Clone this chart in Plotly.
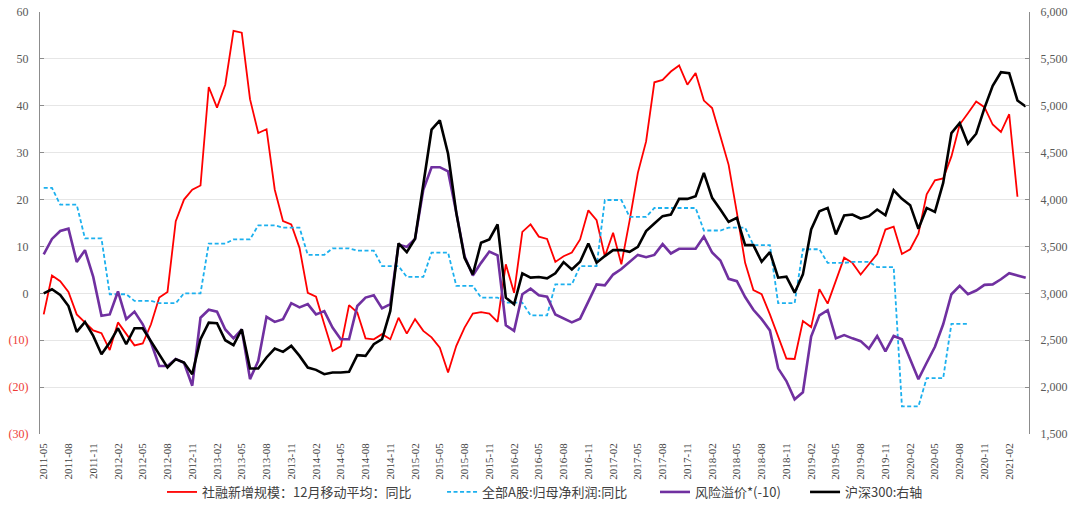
import plotly.graph_objects as go
import pandas as pd

months = [p.strftime("%Y-%m") for p in pd.period_range("2011-05", "2021-04", freq="M")]

social_financing = [
    -4.5, 3.8, 2.6, 0.3, -4.5, -6.1, -7.9, -8.5, -12.1, -6.2,
    -8.7, -11.1, -10.7, -6.6, -0.9, 0.3, 15.4, 20.0, 22.1, 23.0,
    44.0, 39.6, 44.5, 56.0, 55.6, 41.4, 34.2, 35.0, 22.1, 15.4,
    14.7, 9.7, 0.1, -0.7, -6.6, -12.3, -11.3, -2.5, -4.1, -9.6,
    -9.8, -8.7, -9.8, -5.2, -8.6, -5.5, -8.0, -9.4, -11.6, -16.9,
    -11.2, -7.3, -4.3, -4.0, -4.3, -6.1, 6.2, 0.1, 13.1, 14.7,
    12.1, 11.6, 6.7, 7.9, 8.7, 11.5, 17.7, 15.6, 7.9, 12.9,
    6.2, 15.5, 25.7, 32.4, 45.0, 45.5, 47.3, 48.6, 44.5, 47.0,
    41.1, 39.5, 33.5, 27.4, 17.2, 6.5, 0.7, -0.2, -4.5, -9.4,
    -13.9, -14.0, -5.9, -7.2, 0.9, -2.2, 2.6, 7.6, 6.5, 4.0,
    6.2, 8.4, 13.6, 14.2, 8.4, 9.4, 12.7, 21.1, 24.1, 24.5,
    29.2, 36.0, 38.4, 40.9, 39.7, 36.0, 34.4, 38.2, 20.6, None,
]

a_share_profit = [
    22.5, 22.5, 18.9, 18.9, 18.9, 11.7, 11.7, 11.7, -0.2, -0.2,
    -0.2, -1.6, -1.6, -1.6, -2.1, -2.1, -2.1, 0.0, 0.0, 0.0,
    10.6, 10.6, 10.6, 11.5, 11.5, 11.5, 14.5, 14.5, 14.5, 14.0,
    14.0, 14.0, 8.2, 8.2, 8.2, 9.6, 9.6, 9.6, 9.1, 9.1,
    9.1, 5.8, 5.8, 5.8, 3.5, 3.5, 3.5, 8.7, 8.7, 8.7,
    1.6, 1.6, 1.6, -0.9, -0.9, -0.9, -2.0, -2.0, -2.0, -4.7,
    -4.7, -4.7, 1.9, 1.9, 1.9, 5.8, 5.8, 5.8, 19.9, 19.9,
    19.9, 16.3, 16.3, 16.3, 18.2, 18.2, 18.2, 18.2, 18.2, 18.2,
    13.4, 13.4, 13.4, 14.0, 14.0, 14.0, 10.3, 10.3, 10.3, -2.1,
    -2.1, -2.1, 9.4, 9.4, 9.4, 6.5, 6.5, 6.5, 6.7, 6.7,
    6.7, 5.6, 5.6, 5.6, -24.1, -24.1, -24.1, -18.1, -18.1, -18.1,
    -6.5, -6.5, -6.5, None, None, None, None, None, None, None,
]

risk_premium = [
    8.3, 11.6, 13.3, 13.8, 6.7, 9.2, 3.5, -4.8, -4.5, 0.4,
    -5.5, -3.9, -6.6, -10.5, -15.5, -15.5, -14.0, -14.8, -19.7, -5.2,
    -3.5, -3.9, -7.7, -9.6, -7.7, -18.3, -14.4, -5.0, -6.1, -5.5,
    -2.1, -3.0, -2.3, -4.5, -3.8, -7.3, -9.8, -9.8, -2.7, -0.9,
    -0.4, -3.2, -2.3, 10.4, 9.9, 11.6, 22.1, 26.9, 26.9, 26.0,
    17.2, 7.9, 3.8, 6.5, 8.9, 8.1, -6.8, -8.0, -0.2, 1.0,
    -0.4, -0.7, -4.5, -5.3, -6.2, -5.4, -1.8, 1.9, 1.7, 4.0,
    5.2, 6.7, 8.2, 7.7, 8.2, 10.5, 8.5, 9.5, 9.5, 9.5,
    12.1, 8.7, 7.0, 3.1, 2.6, -0.8, -3.5, -5.5, -7.9, -16.0,
    -18.7, -22.6, -21.1, -9.2, -4.7, -3.6, -9.6, -8.9, -9.6, -10.2,
    -11.8, -9.1, -12.4, -9.1, -9.8, -14.0, -18.3, -14.8, -11.4, -6.6,
    -0.2, 1.6, -0.2, 0.6, 1.8, 1.9, 3.0, 4.3, 3.8, 3.3,
]

hs300 = [
    3000, 3043, 2982, 2865, 2589, 2695, 2546, 2351, 2475, 2628,
    2457, 2628, 2628, 2493, 2351, 2209, 2298, 2262, 2138, 2511,
    2688, 2681, 2500, 2447, 2617, 2199, 2199, 2316, 2411, 2376,
    2440, 2333, 2209, 2184, 2138, 2156, 2156, 2163, 2340, 2333,
    2457, 2511, 2812, 3532, 3440, 3582, 4160, 4745, 4844, 4489,
    3858, 3379, 3202, 3539, 3574, 3734, 2954, 2883, 3213, 3167,
    3174, 3160, 3213, 3333, 3255, 3337, 3532, 3326, 3397, 3461,
    3461, 3443, 3496, 3663, 3745, 3823, 3840, 4007, 4007, 4035,
    4284, 4018, 3894, 3762, 3805, 3514, 3514, 3337, 3440, 3167,
    3177, 3007, 3202, 3681, 3876, 3911, 3628, 3830, 3840, 3798,
    3823, 3894, 3833, 4099, 4007, 3940, 3688, 3911, 3869, 4177,
    4709, 4816, 4596, 4702, 4975, 5213, 5358, 5347, 5057, 4993,
]

series_names = [
    "社融新增规模：12月移动平均：同比",
    "全部A股:归母净利润:同比",
    "风险溢价*(-10)",
    "沪深300:右轴",
]

left_ticks = [-30, -20, -10, 0, 10, 20, 30, 40, 50, 60]
right_ticks = [1500, 2000, 2500, 3000, 3500, 4000, 4500, 5000, 5500, 6000]

NEG = "#EE3B36"
GRAY = "#595959"
SERIF = "Liberation Serif, DejaVu Serif, serif"
left_text = [
    (f"<span style='color:{NEG}'>({abs(v)})</span>" if v < 0 else str(v))
    for v in left_ticks
]
right_text = [f"{v:,}" for v in right_ticks]

X_RANGE = [-0.45, 119.4]
# tick marks on the zero line sit on the month boundaries, every 3 months
zero_line_ticks = [k + 0.5 for k in range(2, len(months) - 1, 3)]

fig = go.Figure()
fig.add_trace(go.Scatter(x=months, y=social_financing, name=series_names[0],
                         mode="lines", line=dict(color="#FF0000", width=1.8),
                         yaxis="y", legend="legend"))
fig.add_trace(go.Scatter(x=months, y=a_share_profit, name=series_names[1],
                         mode="lines", line=dict(color="#1CB0EE", width=1.8, dash="4px,2.5px"),
                         yaxis="y", legend="legend2"))
fig.add_trace(go.Scatter(x=months, y=risk_premium, name=series_names[2],
                         mode="lines", line=dict(color="#7030A0", width=2.6),
                         yaxis="y", legend="legend3"))
fig.add_trace(go.Scatter(x=months, y=hs300, name=series_names[3],
                         mode="lines", line=dict(color="#000000", width=2.6),
                         yaxis="y2", legend="legend4"))

leg_common = dict(orientation="h", xref="container", yref="container",
                  y=0.0315, yanchor="middle", xanchor="left",
                  bgcolor="rgba(0,0,0,0)", itemwidth=30,
                  font=dict(family="Noto Sans CJK SC", size=13, color="#404040"))

fig.update_layout(
    width=1080, height=508,
    margin=dict(l=40, r=51, t=12, b=74, autoexpand=False),
    paper_bgcolor="white", plot_bgcolor="white",
    showlegend=True,
    legend=dict(x=0.1500, **leg_common),
    legend2=dict(x=0.4093, **leg_common),
    legend3=dict(x=0.6065, **leg_common),
    legend4=dict(x=0.7454, **leg_common),
    xaxis=dict(type="category", categoryarray=months, automargin=False,
               range=X_RANGE,
               tickmode="array", tickvals=months[::3], ticktext=months[::3],
               tickangle=-90, showgrid=False, showline=False, zeroline=False,
               ticks="", ticklabelstandoff=6,
               tickfont=dict(family=SERIF, size=11, color="#404040")),
    xaxis2=dict(overlaying="x", anchor="free", position=30 / 90, side="bottom",
                type="linear", range=X_RANGE, automargin=False,
                tickmode="array", tickvals=zero_line_ticks,
                showticklabels=False, ticks="outside", ticklen=3,
                tickcolor="#B0B0B0", tickwidth=1,
                showgrid=False, showline=False, zeroline=False),
    yaxis=dict(range=[-30, 60], tickmode="array", tickvals=left_ticks, ticktext=left_text,
               automargin=False,
               showgrid=True, gridcolor="#E6E6E6", gridwidth=1, zeroline=False,
               showline=True, linecolor="#8C8C8C", linewidth=1,
               ticks="inside", ticklen=4, tickcolor="#8C8C8C", ticklabelstandoff=8,
               tickfont=dict(family=SERIF, size=12, color=GRAY)),
    yaxis2=dict(range=[1500, 6000], overlaying="y", side="right", automargin=False,
                tickmode="array", tickvals=right_ticks, ticktext=right_text,
                showgrid=False, zeroline=False,
                showline=True, linecolor="#8C8C8C", linewidth=1,
                ticks="inside", ticklen=4, tickcolor="#8C8C8C", ticklabelstandoff=8,
                tickfont=dict(family=SERIF, size=12, color=GRAY)),
)

fig.write_html("out.html", config={"displayModeBar": False},
               post_script="document.body.style.margin='0';")
